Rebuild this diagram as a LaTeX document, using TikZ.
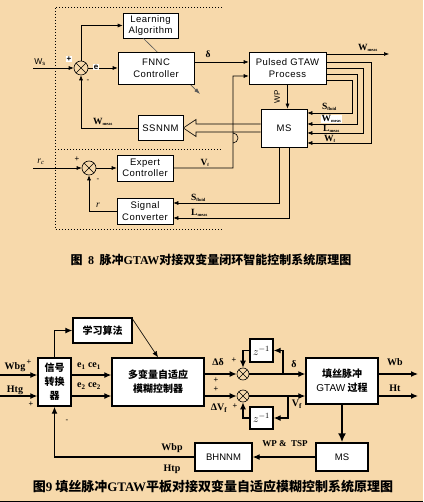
\documentclass[tikz,border=0pt]{standalone}
\usepackage{fontspec}
\setmainfont{Liberation Serif}
\setsansfont{Liberation Sans}
\newfontfamily\cjk{Noto Sans CJK SC}
\newfontfamily\boxf{Liberation Sans}[LetterSpace=5]
\usetikzlibrary{arrows.meta}
\definecolor{bg}{RGB}{247,217,171}
\newcommand{\sbs}[1]{\textsubscript{\fontsize{4.5}{5}\selectfont #1}}
\tikzset{
  box/.style={draw, line width=0.6pt, fill=white, align=center, inner sep=0pt, font=\boxf\fontsize{9.5}{11.5}\selectfont},
  bbox/.style={draw, line width=1.4pt, fill=white, align=center, inner sep=0pt, font=\cjk\bfseries\fontsize{10}{14}\selectfont},
  sumj/.style={circle, draw, line width=0.6pt, minimum size=#1, inner sep=0pt,
    path picture={\draw[line width=0.6pt] (path picture bounding box.north west) -- (path picture bounding box.south east)
      (path picture bounding box.north east) -- (path picture bounding box.south west);}},
  ar/.style={line width=0.6pt, -{Latex[length=5pt,width=4pt]}},
  ln/.style={line width=0.6pt},
  bar/.style={line width=1.2pt, -{Latex[length=7pt,width=6pt]}},
  bln/.style={line width=1.2pt},
  lb/.style={font=\bfseries\fontsize{9.5}{10}\selectfont, inner sep=0pt},
  blb/.style={font=\bfseries\fontsize{10}{11}\selectfont, inner sep=0pt},
  pl/.style={font=\sffamily\fontsize{8}{9}\selectfont, inner sep=0pt},
  dots/.style={line width=0.8pt, dash pattern=on 0.8pt off 2.2pt},
}
\begin{document}
\begin{tikzpicture}[x=1pt,y=-1pt]
\fill[bg] (0,0) rectangle (423,502);
\useasboundingbox (0,0) rectangle (423,502);
\draw[line width=1pt] (0,501.5) -- (423,501.5);

% ---------- Figure 8 ----------
\draw[dots] (222,7) -- (55,7) -- (55,229) -- (222,229);
\draw[dots] (55,149) -- (222,149);

\node[box, minimum width=55pt, minimum height=25pt] (la) at (150.5,25.5) {Learning\\Algorithm};
\coordinate (ga) at (143,38);
\coordinate (gb) at (200,94);
\draw[line width=0.6pt, gray!70!black, -{Latex[length=6pt,width=4pt]}] (ga) -- (gb);
\node[box, minimum width=76pt, minimum height=32pt] (fnnc) at (156,68) {FNNC\\Controller};
\node[box, minimum width=77pt, minimum height=32pt] (pg) at (287.5,68) {Pulsed GTAW\\Process};
\node[box, minimum width=45pt, minimum height=25pt] (ssnnm) at (160.5,128) {SSNNM};
\node[box, minimum width=46pt, minimum height=38pt] (ms1) at (284,128) {MS};
\node[box, minimum width=56pt, minimum height=26pt] (ec) at (145,168) {Expert\\Controller};
\node[box, minimum width=56pt, minimum height=26pt] (sc) at (145,211) {Signal\\Converter};
\node[sumj=14pt] (j1) at (81,68) {};
\node[sumj=14pt] (j2) at (89,168) {};

\coordinate (ws) at (33,68);
\draw[ar] (ws) -- (j1.west);
\draw[ar] (j1.east) -- (fnnc.west);
\draw[ar] (j1.north) |- (la.west);
\draw[ar] ([yshift=6pt]fnnc.east) -- ([yshift=6pt]pg.west);
\draw[ar] (ssnnm.west) -| (j1.south);

% hollow arrow MS -> SSNNM
\draw[line width=0.6pt, fill=bg] (ms1.west |- 0,124) -- (196,124) -- (196,119.5) -- (ssnnm.east) -- (196,136.5) -- (196,132) -- (ms1.west |- 0,132);

% V_f with jump
\draw[ar] (ec.east) -- (233,168) -- (233,133) arc[start angle=-90, end angle=90, radius=5] -- (233,76) -- ([yshift=-8pt]pg.west);

\coordinate (wout) at (389,54);
\draw[ar] ([yshift=14pt]pg.east) -- (wout);
\draw[ar] ([yshift=6pt]pg.east) -- (371,62) |- ([yshift=-15pt]ms1.east);
\draw[ar] (pg.east) -- (363,68) |- ([yshift=-5pt]ms1.east);
\draw[ar] ([yshift=-6pt]pg.east) -- (357,74) |- ([yshift=4pt]ms1.east);
\draw[ar] ([yshift=-12pt]pg.east) -- (352,80) |- ([yshift=15pt]ms1.east);
\draw[ar] (pg.south) -- (pg.south |- ms1.north);

\coordinate (rc) at (33,168);
\draw[ar] (rc) -- (j2.west);
\draw[ar] (j2.east) -- (ec.west);
\draw[ar] (sc.west) -| (j2.south);
\draw[ar] (ms1.south -| 279,0) |- ([yshift=8pt]sc.east);
\draw[ar] (ms1.south -| 289,0) |- ([yshift=-7pt]sc.east);

% labels fig 8
\node[font=\sffamily\fontsize{8.5}{9}\selectfont, inner sep=0pt] at (40,62) {W\textsubscript{s}};
\node[font=\sffamily\bfseries\fontsize{8}{9}\selectfont, fill=white, inner sep=1pt] at (69,59) {+};
\node[font=\sffamily\bfseries\fontsize{8}{9}\selectfont, fill=white, inner sep=1pt] at (96,67) {e};
\node[pl] at (88,81) {-};
\node[lb] at (208,54) {δ};
\node[lb] at (103,122) {W\sbs{meas}};
\node[lb] at (368,48) {W\sbs{meas}};
\node[pl, rotate=90] at (277,97) {WP};
\node[lb, anchor=west] at (322,107) {S\sbs{fluid}};
\node[lb, anchor=west, fill=white, inner sep=0.5pt] at (321,119) {W\sbs{meas}};
\node[lb, anchor=west] at (323,129) {L\sbs{meas}};
\node[lb, anchor=west] at (324,139) {W\sbs{f}};
\node[font=\itshape\fontsize{9.5}{10}\selectfont, inner sep=0pt] at (41,162) {r\textsubscript{c}};
\node[pl] at (77,159) {+};
\node[pl] at (98,180) {-};
\node[lb] at (205,163) {V\sbs{f}};
\node[font=\itshape\fontsize{9.5}{10}\selectfont, inner sep=0pt] at (98,205) {r};
\node[lb, anchor=west] at (191,198) {S\sbs{fluid}};
\node[lb, anchor=west] at (191,213) {L\sbs{meas}};

\node[font=\cjk\bfseries\fontsize{12}{14}\selectfont, inner sep=0pt] (cap1) at (211,260) {图\ \ {\rmfamily 8}\ \ 脉冲{\rmfamily GTAW}对接双变量闭环智能控制系统原理图};

% ---------- Figure 9 ----------
\node[bbox, minimum width=59pt, minimum height=25pt] (xl) at (102.5,330.5) {学习算法};
\node[bbox, minimum width=33pt, minimum height=48pt] (xh) at (54.5,382) {信号\\转换\\器};
\node[bbox, minimum width=92pt, minimum height=48pt] (mc) at (158,382) {多变量自适应\\模糊控制器};
\node[bbox, minimum width=23pt, minimum height=23pt, font=\fontsize{11}{12}\selectfont] (z1) at (261.5,350.5) {$z^{-1}$};
\node[bbox, minimum width=23pt, minimum height=22pt, font=\fontsize{11}{12}\selectfont] (z2) at (261.5,418) {$z^{-1}$};
\node[bbox, minimum width=72pt, minimum height=46pt] (gt) at (342,381) {填丝脉冲\\{\sffamily\mdseries GTAW} 过程};
\node[bbox, minimum width=52pt, minimum height=28pt, font=\sffamily\fontsize{9.5}{10}\selectfont] (ms2) at (342,457) {MS};
\node[bbox, minimum width=57pt, minimum height=28pt, font=\sffamily\fontsize{9.5}{10}\selectfont] (bh) at (223.5,457) {BHNNM};
\node[sumj=12pt] (s1) at (243,374) {};
\node[sumj=12pt] (s2) at (243,396) {};

\coordinate (wbg) at (0,375);
\coordinate (htg) at (0,396);
\draw[bar] (wbg) -- ([yshift=7pt]xh.west);
\draw[bar] (htg) -- ([yshift=-14pt]xh.west);
\draw[bar] ([yshift=7pt]xh.east) -- ([yshift=7pt]mc.west);
\draw[bar] ([yshift=-14pt]xh.east) -- ([yshift=-14pt]mc.west);
\draw[bar] (xh.north) |- (xl.west);
\draw[line width=0.6pt, -{Latex[length=6pt,width=5pt]}] ([yshift=-2pt]xl.north east) -- (mc.north);
\draw[bar] (mc.east |- s1) -- (s1.west);
\draw[bar] (mc.east |- s2) -- (s2.west);
\draw[bar] (s1.east) -- (s1.east -| gt.west);
\draw[bar] (s2.east) -- (s2.east -| gt.west);
\coordinate (bd) at (283,374);
\coordinate (bv) at (288,396);
\draw[bar] (bd) |- (z1.east);
\draw[bar] (z1.west) -| (s1.north);
\draw[bar] (bv) |- (z2.east);
\draw[bar] (z2.west) -| (s2.south);
\coordinate (wb) at (418,374);
\coordinate (ht) at (418,396);
\draw[bar] ([yshift=7pt]gt.east) -- (wb);
\draw[bar] ([yshift=-15pt]gt.east) -- (ht);
\draw[line width=1.8pt, -{Latex[length=9pt,width=8pt]}] (gt.south) -- (ms2.north);
\draw[bar] (ms2.west) -- (bh.east);
\draw[bar] (bh.west) -| (xh.south);

% labels fig 9
\node[blb] at (15,367) {Wbg};
\node[pl] at (29,362) {+};
\node[blb] at (15,390) {Htg};
\node[pl] at (31,404) {+};
\node[blb] at (89,366) {e\textsubscript{1} ce\textsubscript{1}};
\node[blb] at (89,386) {e\textsubscript{2} ce\textsubscript{2}};
\node[pl] at (67,421) {-};
\node[blb] at (218,362) {Δδ};
\node[pl] at (234,360) {+};
\node[pl] at (216,380) {+};
\node[pl] at (216,389) {+};
\node[blb] at (219,408) {ΔV\textsubscript{f}};
\node[pl] at (235,406) {+};
\node[blb] at (294,364) {δ};
\node[blb] at (297,404) {V\textsubscript{f}};
\node[blb] at (395,362) {Wb};
\node[blb] at (395,388) {Ht};
\node[font=\bfseries\fontsize{9}{10}\selectfont, inner sep=0pt] at (285,444) {WP \&\ \ TSP};
\node[blb] at (172,448) {Wbp};
\node[blb] at (172,469) {Htp};

\node[font=\cjk\bfseries\fontsize{13}{15}\selectfont, inner sep=0pt] (cap2) at (213,487) {图{\rmfamily 9} 填丝脉冲{\rmfamily GTAW}平板对接双变量自适应模糊控制系统原理图};
\end{tikzpicture}
\end{document}
